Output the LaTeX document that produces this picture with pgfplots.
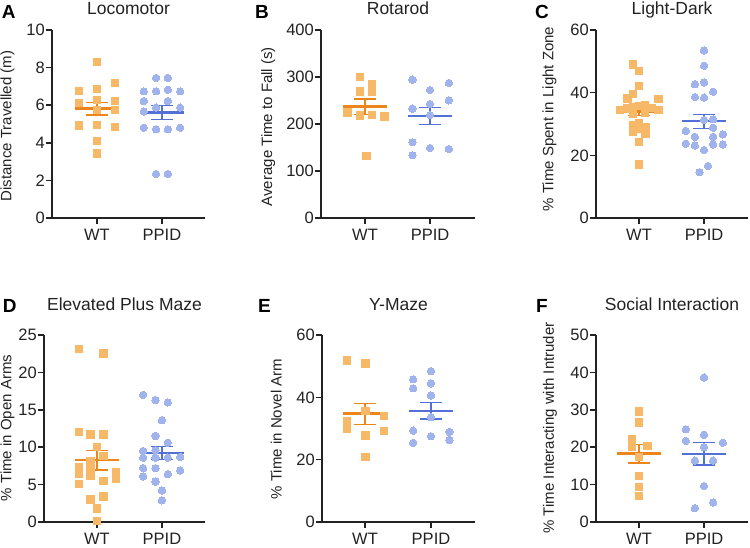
\documentclass[border=0pt]{standalone}
\usepackage{fontspec}
\setmainfont{Liberation Sans}
\usepackage{pgfplots}
\pgfplotsset{compat=1.18}
\definecolor{sqcol}{RGB}{247,184,104}
\definecolor{cicol}{RGB}{160,179,236}
\definecolor{mo}{RGB}{236,134,28}
\definecolor{mb}{RGB}{82,112,214}
\definecolor{axc}{RGB}{34,34,34}

\newcommand{\meanWT}[3]{%
 \addplot[mo, line width=1.3pt] coordinates {(1,#2) (1,#3)};
 \addplot[mo, line width=1.3pt] coordinates {(0.83,#2) (1.17,#2)};
 \addplot[mo, line width=1.3pt] coordinates {(0.83,#3) (1.17,#3)};
 \addplot[mo, line width=2.4pt] coordinates {(0.66,#1) (1.34,#1)};
}
\newcommand{\meanPP}[3]{%
 \addplot[mb, line width=1.3pt] coordinates {(2,#2) (2,#3)};
 \addplot[mb, line width=1.3pt] coordinates {(1.83,#2) (2.17,#2)};
 \addplot[mb, line width=1.3pt] coordinates {(1.83,#3) (2.17,#3)};
 \addplot[mb, line width=2.4pt] coordinates {(1.66,#1) (2.34,#1)};
}

\pgfplotsset{
 panel/.style={
  scale only axis, axis lines=left, anchor=south west,
  axis line style={-, line width=1.5pt, draw=axc},
  tick style={line width=1.5pt, draw=axc},
  tick align=outside, major tick length=6pt,
  xtick={1,2}, xticklabels={WT,PPID},
  ymin=0,
  tick label style={font=\fontsize{16.5}{19}\selectfont, text=axc},
  /pgf/number format/assume math mode=true,
  label style={font=\fontsize{15}{18}\selectfont, text=axc},
  title style={font=\fontsize{17.5}{21}\selectfont, text=axc, at={(0.5,1)}, anchor=base},
  yticklabel style={inner xsep=1pt},
  xticklabel style={yshift=-1.5pt},
  clip=false,
 },
 wt/.style={only marks, mark=square*, mark size=3.7pt, mark options={fill=sqcol, draw=sqcol, line width=0pt}},
 pp/.style={only marks, mark=*, mark size=3.7pt, mark options={fill=cicol, draw=cicol, line width=0pt}},
}

\begin{document}
\begin{tikzpicture}
\useasboundingbox (0,0) rectangle (750pt,548pt);

% A
\begin{axis}[panel, at={(52pt,330pt)}, width=153pt, height=188pt,
  xmin=0.308, xmax=2.662, ymax=10, ytick={0,2,4,6,8,10},
  title={Locomotor}, title style={yshift=9pt},
  ylabel={Distance Travelled (m)},
  ylabel style={at={(axis description cs:-0.291,0.489)}, anchor=center}]
\addplot[wt] coordinates {(1,8.31) (0.72,6.74) (1,6.85) (1.28,7.18) (0.72,6.13) (1,6.28) (1.28,6.22) (1,5.74) (1.28,5.74) (0.72,4.91) (1,4.95) (1.28,4.84) (1,4.1) (1,3.44)};
\addplot[pp] coordinates {(1.91,7.45) (2.09,7.45) (1.72,6.74) (1.91,6.74) (2.28,6.74) (2.09,6.82) (1.72,6.22) (2.09,6.22) (1.91,5.87) (2.28,5.87) (1.72,5.66) (1.72,4.8) (2.28,4.8) (1.91,4.72) (2.09,4.72) (1.91,2.34) (2.09,2.34)};
\meanWT{5.82}{5.48}{6.15}
\meanPP{5.62}{5.25}{5.99}
\end{axis}

% B
\begin{axis}[panel, at={(321pt,330pt)}, width=154pt, height=188pt,
  xmin=0.323, xmax=2.692, ymax=400, ytick={0,100,200,300,400},
  title={Rotarod}, title style={yshift=9pt},
  ylabel={Average Time to Fall (s)},
  ylabel style={at={(axis description cs:-0.342,0.486)}, anchor=center}]
\addplot[wt] coordinates {(0.92,300.6) (1.11,285.1) (0.92,268.8) (1.11,268.8) (0.73,224.1) (0.92,217.7) (1.11,219.1) (1.30,215.6) (1.02,131.9)};
\addplot[pp] coordinates {(1.73,294.3) (2.29,287.2) (2,272.3) (2.29,250.4) (1.73,232.6) (2,242.6) (2,219.1) (1.73,161.1) (1.73,133.4) (2,148.9) (2.29,146.8)};
\meanWT{236.9}{220.6}{253.2}
\meanPP{217.2}{199.3}{235.5}
\end{axis}

% C
\begin{axis}[panel, at={(596pt,330pt)}, width=152pt, height=188pt,
  xmin=0.338, xmax=2.677, ymax=60, ytick={0,20,40,60},
  title={Light-Dark}, title style={yshift=9pt},
  ylabel={\% Time Spent in Light Zone},
  ylabel style={at={(axis description cs:-0.306,0.527)}, anchor=center}]
\addplot[wt] coordinates {(0.91,49.0) (1,47.0) (1,42.2) (0.82,38.2) (0.91,39.5) (1.3,38.0)
 (0.71,34.5) (0.82,35.0) (0.91,35.5) (1,35.8) (1.09,36.1) (1.2,35.2) (1.3,34.5) (0.91,33.2) (1.09,33.6)
 (0.91,29.7) (1,30.2) (1.1,29.1) (0.91,27.5) (1,28.6) (1.1,27.0) (1,24.2) (1,17.1)};
\addplot[pp] coordinates {(2,53.5) (2,48.6) (1.86,42.7) (2,43.3) (2.14,40.3) (1.86,38.6) (2,38.4) (2,31.3) (2.14,31.5) (2.14,28.8) (1.72,27.8) (2.29,26.7) (1.86,25.9) (2.14,25.9) (1.72,23.7) (1.86,23.1) (2.14,23.5) (2.29,23.5) (2,21.7) (2.06,16.6) (1.93,14.6)};
\meanWT{34.0}{32.6}{35.5}
\meanPP{31.0}{28.6}{33.1}
\end{axis}

% D
\begin{axis}[panel, at={(44pt,26pt)}, width=161pt, height=187pt,
  xmin=0.185, xmax=2.662, ymax=25, ytick={0,5,10,15,20,25},
  title={Elevated Plus Maze}, title style={yshift=18pt},
  ylabel={\% Time in Open Arms},
  ylabel style={at={(axis description cs:-0.227,0.503)}, anchor=center}]
\addplot[wt] coordinates {(0.72,23.1) (1.1,22.5) (0.72,12.0) (0.9,11.7) (1.1,11.7) (1,10.0) (1.1,8.8) (0.9,8.1) (0.72,7.3) (0.72,6.4) (0.9,7.1) (0.9,6.15) (1.29,6.7) (1.29,5.75) (1.1,5.5) (0.72,5.1) (0.9,3.0) (1.1,3.4) (1,1.8) (1,0.1)};
\addplot[pp] coordinates {(1.71,17.0) (1.9,16.3) (2.09,16.0) (2,13.6) (1.9,11.5) (2.09,10.6) (1.71,9.5) (1.9,9.6) (1.71,8.6) (1.9,8.6) (2.09,8.6) (2.28,8.7) (1.71,7.2) (1.9,7.2) (2.28,6.9) (1.71,6.1) (2.09,6.4) (1.9,5.4) (2,4.2) (2,2.9)};
\meanWT{8.31}{6.95}{9.6}
\meanPP{9.2}{8.4}{10.07}
\end{axis}

% E
\begin{axis}[panel, at={(322pt,26pt)}, width=153pt, height=187pt,
  xmin=0.348, xmax=2.667, ymax=60, ytick={0,20,40,60},
  title={Y-Maze}, title style={yshift=18pt},
  ylabel={\% Time in Novel Arm},
  ylabel style={at={(axis description cs:-0.299,0.497)}, anchor=center}]
\addplot[wt] coordinates {(0.73,51.8) (1.01,50.9) (1.01,35.7) (1.29,34.1) (0.73,32.5) (0.73,30.0) (1.29,29.2) (1.01,27.7) (1.01,20.8)};
\addplot[pp] coordinates {(2,48.4) (1.73,45.8) (2,44.5) (1.73,42.9) (2,40.6) (2,33.6) (1.73,29.3) (2.28,28.9) (2,27.5) (2.28,26.3) (1.73,25.4)};
\meanWT{34.8}{31.3}{38.1}
\meanPP{35.7}{33.0}{38.4}
\end{axis}

% F
\begin{axis}[panel, at={(596pt,26pt)}, width=152pt, height=187pt,
  xmin=0.338, xmax=2.677, ymax=50, ytick={0,10,20,30,40,50},
  title={Social Interaction}, title style={yshift=18pt},
  ylabel={\% Time Interacting with Intruder},
  ylabel style={at={(axis description cs:-0.303,0.503)}, anchor=center}]
\addplot[wt] coordinates {(1,29.5) (1,26.6) (0.89,22.1) (0.89,20.0) (1.13,20.3) (1,17.3) (1,12.3) (1,9.4) (1,7.0)};
\addplot[pp] coordinates {(2,38.6) (1.72,24.8) (2,23.3) (1.72,21.7) (2.29,21.2) (2,20.0) (1.86,16.4) (2.14,16.4) (2,9.6) (2.14,5.2) (1.86,3.7)};
\meanWT{18.3}{15.8}{20.8}
\meanPP{18.2}{15.2}{21.2}
\end{axis}

\begin{scope}[every node/.style={anchor=base west, inner sep=0pt, text=black, font=\bfseries\fontsize{19}{22}\selectfont}]
\node at (1.7pt,529pt) {A};
\node at (255pt,529pt) {B};
\node at (535pt,529pt) {C};
\node at (2.7pt,235pt) {D};
\node at (258pt,235pt) {E};
\node at (536pt,235pt) {F};
\end{scope}
\end{tikzpicture}
\end{document}
